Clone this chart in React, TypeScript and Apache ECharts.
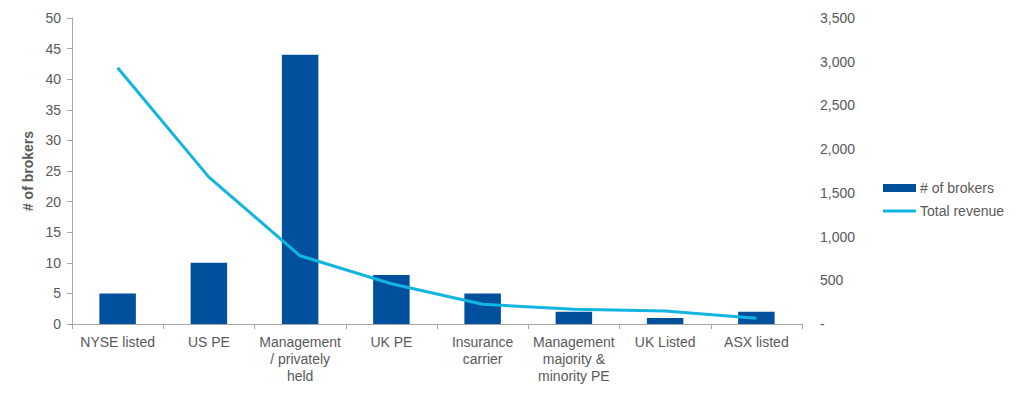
import React, { useEffect, useRef } from "react";
import * as echarts from "echarts";

const categories = [
  "NYSE listed",
  "US PE",
  "Management\n/ privately\nheld",
  "UK PE",
  "Insurance\ncarrier",
  "Management\nmajority &\nminority PE",
  "UK Listed",
  "ASX listed",
];
const brokers = [5, 10, 44, 8, 5, 2, 1, 2];
const revenue = [2930, 1680, 780, 460, 225, 170, 150, 65];

const FONT = "Liberation Sans, Arial, sans-serif";
const TEXT = "#595959";
const AXIS = "#a6a6a6";

export default function App() {
  const ref = useRef<HTMLDivElement>(null);
  useEffect(() => {
    const chart = echarts.init(ref.current!, null, { renderer: "svg" });
    chart.setOption({
      animation: false,
      textStyle: { fontFamily: FONT },
      grid: { left: 72, right: 222, top: 18, bottom: 71 },
      legend: {
        orient: "vertical",
        left: 878,
        top: 176,
        itemGap: 9,
        itemWidth: 33,
        itemHeight: 8,
        textStyle: { fontFamily: FONT, fontSize: 14, color: TEXT, padding: [0, 0, 0, -1] },
        data: [
          { name: "# of brokers", icon: "rect" },
          { name: "Total revenue", icon: "path://M0,0h34v3h-34z" },
        ],
      },
      xAxis: {
        type: "category",
        data: categories,
        axisLine: { lineStyle: { color: AXIS } },
        axisTick: { show: true, alignWithLabel: false, length: 5, lineStyle: { color: AXIS } },
        axisLabel: {
          interval: 0,
          color: TEXT,
          fontSize: 14,
          fontFamily: FONT,
          lineHeight: 17,
          margin: 9,
        },
      },
      yAxis: [
        {
          type: "value",
          min: 0,
          max: 50,
          interval: 5,
          name: "# of brokers",
          nameLocation: "middle",
          nameGap: 31,
          nameTextStyle: { fontFamily: FONT, fontSize: 14, fontWeight: "bold", color: TEXT },
          axisLine: { show: true, lineStyle: { color: AXIS } },
          axisTick: { show: true, length: 5, lineStyle: { color: AXIS } },
          axisLabel: { color: TEXT, fontSize: 14, fontFamily: FONT, margin: 11 },
          splitLine: { show: false },
        },
        {
          type: "value",
          min: 0,
          max: 3500,
          interval: 500,
          position: "right",
          axisLine: { show: false },
          axisTick: { show: false },
          axisLabel: {
            color: TEXT,
            fontSize: 14,
            fontFamily: FONT,
            margin: 18,
            formatter: (v: number) => (v === 0 ? "-" : v.toLocaleString("en-US")),
          },
          splitLine: { show: false },
        },
      ],
      series: [
        {
          name: "# of brokers",
          type: "bar",
          data: brokers,
          barWidth: "40%",
          itemStyle: { color: "#00509e" },
          yAxisIndex: 0,
        },
        {
          name: "Total revenue",
          type: "line",
          data: revenue,
          yAxisIndex: 1,
          symbol: "none",
          lineStyle: { color: "#12b5e2", width: 3 },
          itemStyle: { color: "#12b5e2" },
        },
      ],
    });
    return () => chart.dispose();
  }, []);
  return <div ref={ref} style={{ width: 1024, height: 395, margin: -8 }} />;
}
